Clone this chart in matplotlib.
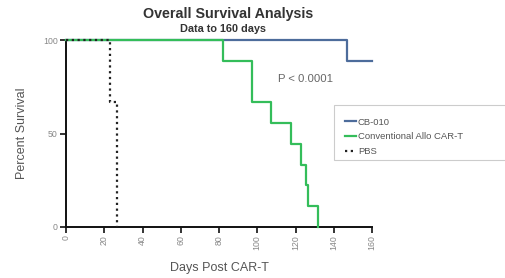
import matplotlib
matplotlib.use("Agg")
import matplotlib.pyplot as plt
from matplotlib.patches import Rectangle

plt.rcParams['font.family'] = ['Liberation Sans', 'DejaVu Sans']

# Kaplan-Meier step data (day, percent survival)
cb010_days = [0, 147, 160]
cb010_surv = [100, 88.9, 88.9]

allo_days = [0, 82, 97, 107, 117.5, 123, 125.5, 126.5, 132]
allo_surv = [100, 88.9, 66.7, 55.6, 44.4, 33.3, 22.2, 11.1, 0]

pbs_days = [0, 23, 26.5]
pbs_surv = [100, 66.7, 0]

x_ticks = [0, 20, 40, 60, 80, 100, 120, 140, 160]
y_ticks = [0, 50, 100]

series_labels = ["CB-010", "Conventional Allo CAR-T", "PBS"]

fig = plt.figure(figsize=(5.05, 2.78), dpi=100)
ax = fig.add_axes([66/505, 1-227/278, (372-66)/505, (227-40)/278])

blue = '#4d6c9b'
green = '#34bd5a'

l1, = ax.step(cb010_days, cb010_surv, where='post', color=blue, lw=1.6, clip_on=False, zorder=3, label=series_labels[0])
l2, = ax.step(allo_days, allo_surv, where='post', color=green, lw=1.6, clip_on=False, zorder=4, label=series_labels[1])
l3, = ax.step(pbs_days, pbs_surv, where='post', color='#222222', lw=1.6, ls=(0, (1, 1.6)), clip_on=False, zorder=5, label=series_labels[2])

ax.set_xlim(0, 160)
ax.set_ylim(0, 100)
ax.set_xticks(x_ticks)
ax.set_xticklabels([str(t) for t in x_ticks], rotation=90, fontsize=6.3, color='#888888')
ax.set_yticks(y_ticks)
ax.set_yticklabels([str(t) for t in y_ticks], fontsize=6.3, color='#888888')
ax.tick_params(axis='both', length=4, width=1.2, color='#111111', pad=2)
for s in ['top', 'right']:
    ax.spines[s].set_visible(False)
for s in ['left', 'bottom']:
    ax.spines[s].set_linewidth(1.4)
    ax.spines[s].set_color('#111111')

fig.text(219/505, 1-268/278, 'Days Post CAR-T', ha='center', va='center', fontsize=9, color='#555555')
fig.text(22/505, 1-133/278, 'Percent Survival', ha='center', va='center', rotation=90, fontsize=9, color='#555555')

fig.text(228/505, 1-14/278, 'Overall Survival Analysis', ha='center', va='center',
         fontsize=10.3, fontweight='bold', color='#333333')
fig.text(223/505, 1-29/278, 'Data to 160 days', ha='center', va='center',
         fontsize=7.8, fontweight='bold', color='#333333')

fig.text(278/505, 1-79/278, 'P < 0.0001', fontsize=8.2, color='#666666', va='center', ha='left')

# legend frame extends beyond right edge
fig.add_artist(Rectangle((334/505, 1-160/278), 200/505, 55/278, transform=fig.transFigure,
                         facecolor='white', edgecolor='#cccccc', lw=0.8, zorder=1))
leg = fig.legend(handles=[l1, l2, l3], loc='upper left', bbox_to_anchor=(340/505, 1-113/278),
                 fontsize=6.8, frameon=False, handlelength=1.2, handletextpad=0.2,
                 labelspacing=0.6, borderpad=0.0, labelcolor='#555555')

fig.savefig('out.png', dpi=100)
